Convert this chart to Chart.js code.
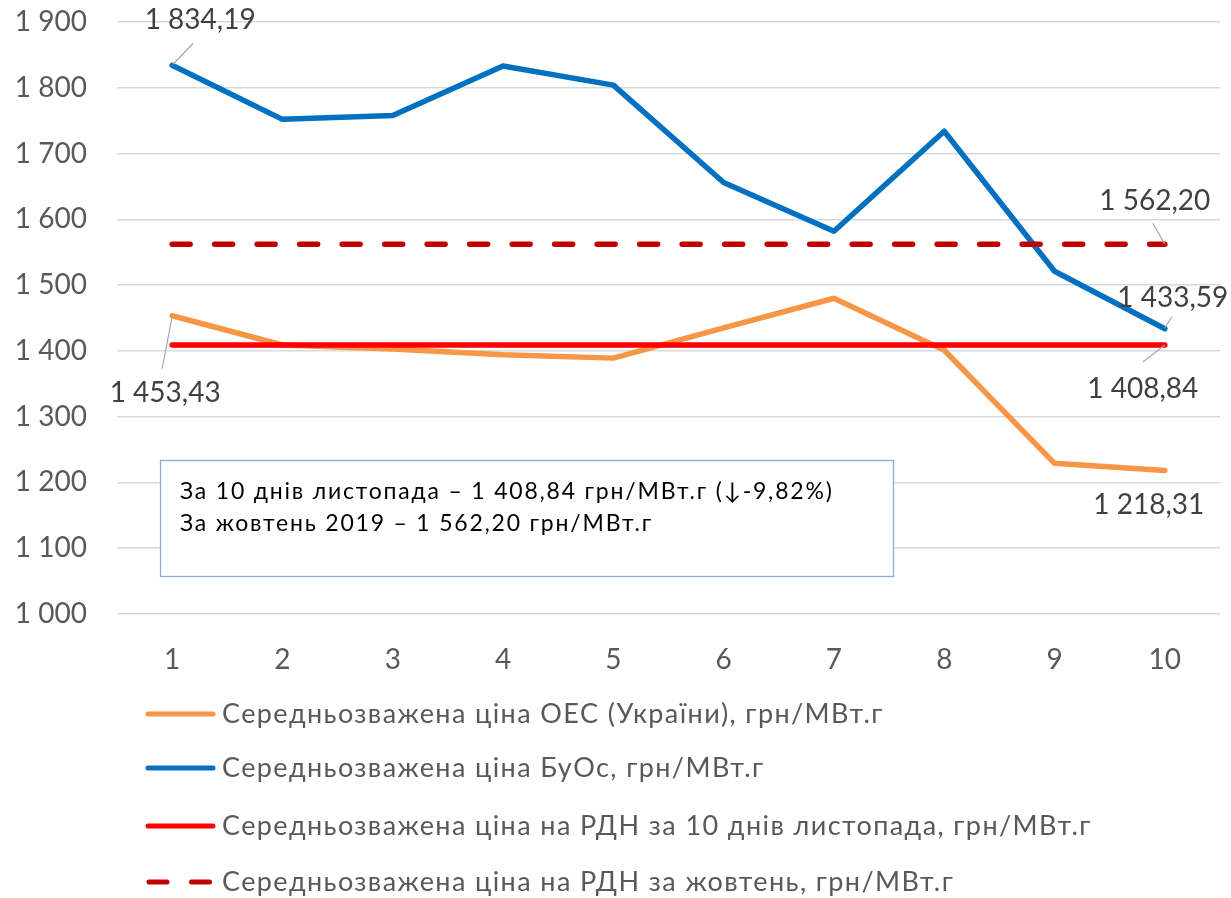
<!DOCTYPE html>
<html><head><meta charset="utf-8">
<script src="https://cdn.jsdelivr.net/npm/chart.js@4/dist/chart.umd.min.js"></script>
<style>html,body{margin:0;padding:0;background:#fff;}#wrap{width:1231px;height:898px;}</style>
</head><body><div id="wrap"><canvas id="c" width="1231" height="898"></canvas></div>
<script>
const categories = ['1','2','3','4','5','6','7','8','9','10'];
const oesPrice = [1453.43, 1409, 1403, 1394, 1389, 1435, 1480, 1401, 1229, 1218.31];
const buosPrice = [1834.19, 1752, 1758, 1833, 1804, 1656, 1582, 1734, 1521, 1433.59];
const rdnNov = [1408.84, 1408.84, 1408.84, 1408.84, 1408.84, 1408.84, 1408.84, 1408.84, 1408.84, 1408.84];
const rdnOct = [1562.20, 1562.20, 1562.20, 1562.20, 1562.20, 1562.20, 1562.20, 1562.20, 1562.20, 1562.20];
const seriesNames = [
  'Середньозважена ціна ОЕС (України), грн/МВт.г',
  'Середньозважена ціна БуОс, грн/МВт.г',
  'Середньозважена ціна на РДН за 10 днів листопада, грн/МВт.г',
  'Середньозважена ціна на РДН за жовтень, грн/МВт.г'
];
const yTicks = [1000, 1100, 1200, 1300, 1400, 1500, 1600, 1700, 1800, 1900];
const boxLines = [
  'За 10 днів листопада – 1 408,84 грн/МВт.г (↓-9,82%)',
  'За жовтень 2019 – 1 562,20 грн/МВт.г'
];

const FONT = 'Lato, "DejaVu Sans", sans-serif';
function fmt(v, dec) {
  const s = v.toFixed(dec);
  const parts = s.split('.');
  const int = parts[0].replace(/\B(?=(\d{3})+(?!\d))/g, ' ');
  return parts.length > 1 ? int + ',' + parts[1] : int;
}

const labelSpecs = [
  {ds: 1, i: 0, dx: 28, dy: -45, line: [1, -1, 21, -22]},
  {ds: 0, i: 0, dx: -7, dy: 77, line: [0, 1, -10, 53]},
  {ds: 3, i: 9, dx: -10, dy: -43, line: [0, 0, -12, -21]},
  {ds: 1, i: 9, dx: 8, dy: -31, line: [0, -1, 7, -12]},
  {ds: 2, i: 9, dx: -22, dy: 44, line: [0, 0, -22, 17]},
  {ds: 0, i: 9, dx: -16, dy: 35, line: null}
];

const overlay = {
  id: 'overlay',
  afterDatasetsDraw(chart) {
    const ctx = chart.ctx;
    const area = chart.chartArea;
    ctx.save();
    labelSpecs.forEach(s => {
      const el = chart.getDatasetMeta(s.ds).data[s.i];
      const v = chart.data.datasets[s.ds].data[s.i];
      if (s.line) {
        ctx.strokeStyle = '#a6a6a6';
        ctx.lineWidth = 1.2;
        ctx.beginPath();
        ctx.moveTo(el.x + s.line[0], el.y + s.line[1]);
        ctx.lineTo(el.x + s.line[2], el.y + s.line[3]);
        ctx.stroke();
      }
      ctx.fillStyle = '#404040';
      ctx.font = '28px ' + FONT;
      ctx.textAlign = 'center';
      ctx.textBaseline = 'middle';
      ctx.fillText(fmt(v, 2), el.x + s.dx, el.y + s.dy);
    });
    // text box
    const bx = area.left + 43, by = area.top + 438, bw = 733, bh = 116;
    ctx.fillStyle = '#ffffff';
    ctx.fillRect(bx, by, bw, bh);
    ctx.strokeStyle = '#8eaadb';
    ctx.lineWidth = 1.3;
    ctx.strokeRect(bx + 0.5, by + 0.5, bw, bh);
    ctx.fillStyle = '#000000';
    ctx.font = '23px ' + FONT;
    ctx.letterSpacing = '1.8px';
    ctx.textAlign = 'left';
    ctx.textBaseline = 'middle';
    ctx.fillText(boxLines[0], bx + 20, by + 32);
    ctx.fillText(boxLines[1], bx + 20, by + 64);
    // legend
    const rows = [714, 768, 826, 882];
    chart.data.datasets.forEach((d, k) => {
      const y = rows[k];
      ctx.strokeStyle = d.borderColor;
      ctx.lineWidth = 5;
      ctx.lineCap = 'round';
      ctx.setLineDash(d.borderDash || []);
      ctx.beginPath();
      if (d.borderDash) {
        ctx.moveTo(149, y); ctx.lineTo(211, y);
      } else {
        ctx.moveTo(148, y); ctx.lineTo(213, y);
      }
      ctx.stroke();
      ctx.setLineDash([]);
      ctx.fillStyle = '#595959';
      ctx.font = '27px ' + FONT;
      ctx.letterSpacing = '1.4px';
      ctx.textAlign = 'left';
      ctx.textBaseline = 'middle';
      ctx.fillText(seriesNames[k], 222, y);
    });
    ctx.letterSpacing = '0px';
    ctx.restore();
  }
};

new Chart(document.getElementById('c'), {
  type: 'line',
  data: {
    labels: categories,
    datasets: [
      {label: seriesNames[0], data: oesPrice, borderColor: '#F79646', borderWidth: 5.5, order: 4, pointRadius: 0, tension: 0, borderCapStyle: 'round', borderJoinStyle: 'round'},
      {label: seriesNames[1], data: buosPrice, borderColor: '#0070C0', borderWidth: 5.5, order: 3, pointRadius: 0, tension: 0, borderCapStyle: 'round', borderJoinStyle: 'round'},
      {label: seriesNames[2], data: rdnNov, borderColor: '#FF0000', borderWidth: 5.5, order: 2, pointRadius: 0, tension: 0, borderCapStyle: 'round'},
      {label: seriesNames[3], data: rdnOct, borderColor: '#C00000', borderWidth: 5.5, order: 1, pointRadius: 0, tension: 0, borderCapStyle: 'round', borderDash: [18, 24.5]}
    ]
  },
  options: {
    responsive: false,
    animation: false,
    events: [],
    layout: {padding: {top: 22, right: 11, left: 0, bottom: 0}},
    plugins: {legend: {display: false}, tooltip: {enabled: false}},
    scales: {
      x: {
        offset: true,
        grid: {display: false, drawTicks: false},
        border: {display: false},
        ticks: {color: '#595959', font: {family: FONT, size: 28}, padding: 29, maxRotation: 0},
        afterFit(s) { s.height = 284; s.paddingLeft = 0; s.paddingRight = 0; }
      },
      y: {
        min: 1000, max: 1900,
        afterBuildTicks(s) { s.ticks = yTicks.map(v => ({value: v})); },
        grid: {color: '#d9d9d9', lineWidth: 1.5, drawTicks: false},
        border: {display: false},
        ticks: {color: '#595959', font: {family: FONT, size: 28}, padding: 30, callback: v => fmt(v, 0)},
        afterFit(s) { s.width = 117; s.paddingTop = 0; s.paddingBottom = 0; }
      }
    }
  },
  plugins: [overlay]
});
</script></body></html>
